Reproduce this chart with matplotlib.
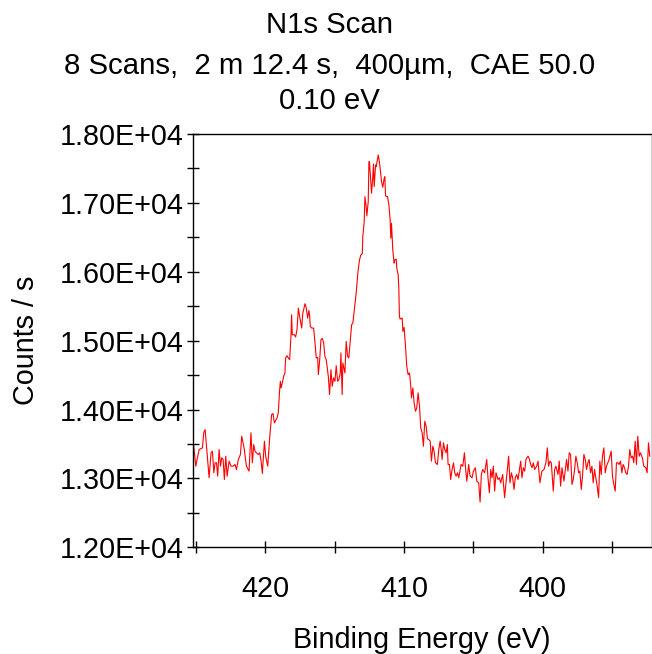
import matplotlib
matplotlib.use("Agg")
import matplotlib.pyplot as plt
from matplotlib.ticker import MultipleLocator, FuncFormatter

# N1s region, values (binding energy in eV, counts / s)
binding_energy = [
    425.17, 425.02, 424.93, 424.78, 424.54, 424.45, 424.35, 424.21, 424.06, 423.92,
    423.82, 423.72, 423.63, 423.53, 423.44, 423.34, 423.24, 423.15, 423.05, 422.96,
    422.86, 422.76, 422.62, 422.48, 422.33, 422.19, 422.09, 421.95, 421.80, 421.71,
    421.61, 421.52, 421.37, 421.18, 421.04, 420.94, 420.84, 420.75, 420.65, 420.51,
    420.41, 420.31, 420.22, 420.07, 419.98, 419.83, 419.69, 419.55, 419.45, 419.35,
    419.16, 419.07,
    418.97, 418.92, 418.87, 418.78, 418.68, 418.59, 418.54, 418.44, 418.35, 418.25,
    418.15, 418.11, 418.06, 417.91, 417.82, 417.72, 417.62, 417.53, 417.38, 417.30,
    417.14, 417.05, 416.95, 416.86, 416.81, 416.76, 416.66, 416.52, 416.42, 416.33,
    416.23, 416.18, 416.09, 415.99, 415.90, 415.80, 415.70, 415.61, 415.46, 415.37,
    415.27, 415.18, 415.08, 414.98, 414.89, 414.79, 414.70, 414.60, 414.55, 414.46,
    414.41, 414.26, 414.17, 414.07, 413.98, 413.88, 413.78, 413.69, 413.54, 413.45,
    413.33, 413.21, 413.11, 413.01, 412.97, 412.87, 412.82, 412.73, 412.68, 412.58,
    412.53, 412.49, 412.39, 412.34, 412.25, 412.20, 412.15, 412.05, 412.01, 411.91,
    411.86, 411.81, 411.72, 411.62, 411.53, 411.43, 411.38, 411.33, 411.19, 411.09,
    411.00, 410.95, 410.90, 410.81, 410.71, 410.66, 410.56, 410.52, 410.42, 410.37,
    410.33, 410.28, 410.13, 410.08, 409.99, 409.89, 409.80, 409.70, 409.60, 409.51,
    409.46, 409.36, 409.27, 409.17, 409.08, 408.98, 408.88, 408.79, 408.69, 408.60,
    408.50, 408.40, 408.31, 408.21, 408.11, 408.02, 407.92, 407.83, 407.73, 407.59,
    407.49, 407.39, 407.30, 407.25, 407.15, 407.06, 406.96, 406.87, 406.82, 406.72,
    406.63, 406.53, 406.43, 406.34, 406.24, 406.14, 406.05,
    405.88, 405.76, 405.64, 405.57, 405.47, 405.33, 405.23, 405.09, 404.99, 404.85,
    404.75, 404.61, 404.51, 404.42, 404.32, 404.18, 404.03, 403.94, 403.84, 403.74,
    403.65, 403.55, 403.46, 403.36, 403.22, 403.12, 403.02, 402.88, 402.74, 402.64,
    402.54, 402.45, 402.35, 402.25, 402.16, 402.06, 401.97, 401.87, 401.77, 401.68,
    401.58, 401.49, 401.39, 401.29, 401.20, 401.05, 400.96, 400.86, 400.76, 400.67,
    400.57, 400.43, 400.33,
    400.19, 400.05, 399.90, 399.76, 399.66, 399.57, 399.47, 399.37, 399.23, 399.13,
    399.04, 398.89, 398.80, 398.70, 398.60, 398.46, 398.36, 398.27, 398.17, 398.08,
    397.98, 397.88, 397.79, 397.69, 397.60, 397.50, 397.40, 397.31, 397.21, 397.12,
    397.02, 396.92, 396.83, 396.73, 396.64, 396.54, 396.44, 396.35, 396.25, 396.16,
    396.06, 395.96, 395.87, 395.77, 395.68, 395.58, 395.48, 395.39, 395.29, 395.20,
    395.05, 394.96, 394.86, 394.76, 394.67, 394.57, 394.48, 394.38, 394.28, 394.19,
    394.09, 394.00, 393.90, 393.80, 393.71, 393.61, 393.51, 393.42, 393.32, 393.23,
    393.13, 393.03, 392.94, 392.80, 392.70, 392.55, 392.46, 392.36, 392.27,
]

counts = [
    13468, 13178, 13275, 13420, 13444, 13662, 13710, 13372, 13010, 13372,
    13396, 13082, 13227, 13227, 13033, 13420, 13178, 13300, 13275, 12985,
    13323, 13033, 13251, 13178, 13178, 13203, 13130, 13275, 13348, 13613,
    13517, 13420, 13178, 13106, 13662, 13227, 13492, 13396, 13372, 13348,
    13372, 13251, 13072, 13541, 13323, 13178, 13589, 13927, 13942, 13807,
    13879, 13952,
    14289, 14410, 14314, 14386, 14483, 14531, 14749, 14782, 14749, 14724,
    15086, 15376, 15086, 15086, 15053, 15159, 15473, 15352, 15183, 15401,
    15536, 15473, 15328, 15439, 15362, 15207, 15183, 15183, 14966, 14749,
    14758, 14507, 14700, 15014, 15033, 14975, 14763, 14724, 14483, 14217,
    14579, 14338, 14459, 14410, 14637, 14410, 14434, 14531, 14821, 14217,
    14676, 14531, 14990, 14772, 14749, 14990, 15231, 15256, 15521, 15690,
    15980, 16173, 16246, 16260, 16511, 16728, 17091, 16946, 16811, 17018,
    17598, 17598, 17284, 17140, 17380, 17564, 17236, 17550, 17525, 17632,
    17695, 17647, 17502, 17308, 17227, 17357, 17380, 17100, 17091, 16970,
    16753, 16487, 16705, 16318, 16125, 16173, 16183, 16053, 15956, 15738,
    15352, 15314, 15328, 15134, 15192, 14917, 14627, 14507, 14531, 14338,
    14169, 14314, 14097, 13975, 14024, 14242, 14048, 13734, 13662, 13468,
    13830, 13758, 13575, 13565, 13541, 13251, 13468, 13396, 13227, 13203,
    13420, 13541, 13396, 13275, 13517, 13420, 13372, 13492, 13203, 13203,
    12985, 13130, 13227, 13082, 13033, 13082, 13010,
    13203, 13178, 13372, 13178, 12961, 13203, 13033, 13010, 13106, 13155,
    12961, 12937, 12657, 13058, 13130, 13082, 13275, 13010, 12792, 13130,
    13010, 13178, 12816, 13082, 12985, 13010, 12937, 13058, 12720, 12937,
    13130, 13323, 12937, 13082, 13010, 12840, 13010, 13058, 12985, 13106,
    13251, 13010, 13155, 13106, 13275, 13323, 13285, 13203, 13155, 13227,
    13130, 13178, 13251,
    12937, 13106, 13130, 13227, 13444, 13178, 13251, 13227, 12816, 13130,
    13178, 13058, 13251, 12889, 13155, 12961, 13130, 13275, 13106, 13372,
    13348, 12913, 12985, 13130, 13323, 13227, 13082, 13106, 12840, 13033,
    13348, 13275, 13130, 13227, 13275, 13082, 13178, 12937, 13130, 13010,
    12889, 12720, 13251, 13058, 13323, 13444, 13082, 13178, 13227, 13275,
    13396, 13033, 12913, 12816, 13227, 13227, 13203, 13251, 13082, 13203,
    13155, 13082, 13058, 13178, 13420, 13299, 13323, 13227, 13541, 13203,
    13613, 13323, 13372, 13299, 13178, 13155, 13082, 13517, 13323,
]

title_lines = ["N1s Scan", "8 Scans,  2 m 12.4 s,  400\u00b5m,  CAE 50.0", "0.10 eV"]

plt.rcParams['font.family'] = ['Liberation Sans', 'DejaVu Sans']
plt.rcParams['font.size'] = 20.7

fig = plt.figure(figsize=(6.52, 6.54), dpi=100)
ax = fig.add_axes([0.2965, 0.1631, 0.7015, 0.632])

ax.plot(binding_energy, counts, color='#ff0000', lw=0.8)

ax.set_xlim(425.2, 392.2)
ax.set_ylim(12000, 18000)

ax.xaxis.set_major_locator(MultipleLocator(10))
ax.xaxis.set_minor_locator(MultipleLocator(5))
ax.yaxis.set_major_locator(MultipleLocator(1000))
ax.yaxis.set_minor_locator(MultipleLocator(500))
ax.yaxis.set_major_formatter(FuncFormatter(lambda v, p: f"{v:.2E}"))

ax.tick_params(axis='both', which='both', direction='inout', width=1.0, color='black')
ax.tick_params(axis='x', which='both', length=9, pad=15.5, labelsize=20.7)
ax.tick_params(axis='y', which='major', length=9, pad=2.2, labelsize=20.7)
ax.tick_params(axis='y', which='minor', length=8)

for side in ['left', 'bottom', 'top']:
    ax.spines[side].set_color('black')
    ax.spines[side].set_linewidth(1.0)
ax.spines['right'].set_color('#d4d4d4')
ax.spines['right'].set_linewidth(1.0)

ax.set_xlabel("Binding Energy (eV)", fontsize=20.7)
ax.xaxis.set_label_coords(0.5, -0.19)
ax.set_ylabel("Counts / s", fontsize=20.7)
ax.yaxis.set_label_coords(-0.335, 0.5)

fig.text(0.505, 1 - 33 / 654, title_lines[0], ha='center', va='baseline', fontsize=21.2)
fig.text(0.505, 1 - 74 / 654, title_lines[1], ha='center', va='baseline', fontsize=21.2)
fig.text(0.505, 1 - 109 / 654, title_lines[2], ha='center', va='baseline', fontsize=21.2)

fig.savefig("out.png", dpi=100)
